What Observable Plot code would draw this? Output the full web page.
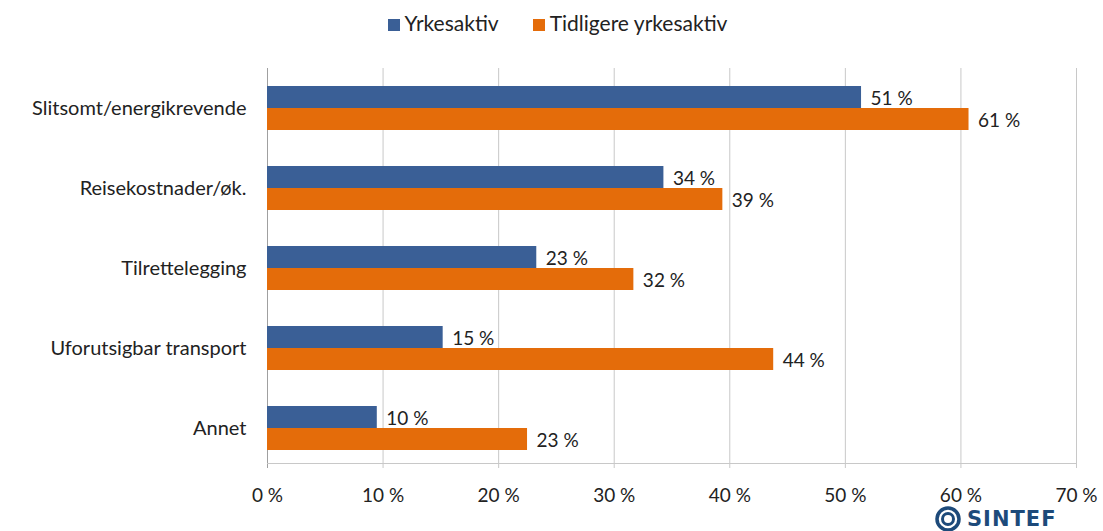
<!DOCTYPE html>
<html><head><meta charset="utf-8">
<script src="https://cdn.jsdelivr.net/npm/d3@7"></script>
<script src="https://cdn.jsdelivr.net/npm/@observablehq/plot@0.6"></script>
<style>
body{margin:0;background:#fff;font-family:Lato,"Open Sans",sans-serif;color:#222;}
#wrap{position:relative;width:1103px;height:531px;overflow:hidden;}
#legend{height:45px;display:flex;justify-content:center;align-items:center;gap:34px;font-size:21px;padding-left:12px;box-sizing:border-box;}
#legend span.sw{display:inline-block;width:12px;height:12px;margin-right:5px;vertical-align:0px;}
#logo{position:absolute;left:935px;top:506px;display:flex;align-items:center;gap:6px;color:#1d4a7a;font-family:"DejaVu Sans",sans-serif;font-weight:bold;font-size:21px;letter-spacing:1px;}
</style></head>
<body><div id="wrap"><div id="legend"></div><div id="chart"></div>
<div id="logo"><svg width="26" height="26" viewBox="0 0 26 26"><circle cx="13" cy="13" r="11" fill="none" stroke="#1d4a7a" stroke-width="3.5"/><circle cx="13" cy="13" r="5.5" fill="none" stroke="#1d4a7a" stroke-width="3"/></svg><span>SINTEF</span></div>
</div>
<script>
const categories = ["Slitsomt/energikrevende","Reisekostnader/øk.","Tilrettelegging","Uforutsigbar transport","Annet"];
const series = ["Yrkesaktiv","Tidligere yrkesaktiv"];
const yrkesaktiv = [51.4, 34.3, 23.3, 15.2, 9.5];
const tidligere = [60.7, 39.4, 31.7, 43.8, 22.5];
const yrkesaktivLabels = ["51 %","34 %","23 %","15 %","10 %"];
const tidligereLabels = ["61 %","39 %","32 %","44 %","23 %"];
const xTicks = [0,10,20,30,40,50,60,70];
const colors = ["#3a5f96","#e46c0a"];

const data = [];
categories.forEach((c,i)=>{
  data.push({cat:c, series:series[0], value:yrkesaktiv[i], label:yrkesaktivLabels[i]});
  data.push({cat:c, series:series[1], value:tidligere[i], label:tidligereLabels[i]});
});

const legend = document.getElementById("legend");
series.forEach((s,i)=>{
  const d = document.createElement("div");
  d.innerHTML = `<span class="sw" style="background:${colors[i]}"></span>${s}`;
  legend.appendChild(d);
});

const chart = Plot.plot({
  width:1103, height:486,
  marginLeft:267, marginRight:27, marginTop:23, marginBottom:63,
  style:{fontFamily:"Lato, 'Open Sans', sans-serif", fontSize:"19px", color:"#222"},
  x:{domain:[0,70], ticks:xTicks, tickFormat:d=>d+" %", label:null, tickSize:0, tickPadding:20},
  y:{domain:series, axis:null, paddingInner:0, paddingOuter:0.8},
  fy:{domain:categories, label:null, padding:0, axis:null},
  color:{domain:series, range:colors},
  marks:[
    Plot.gridX(xTicks, {stroke:"#c8c8c8", strokeOpacity:1}),
    Plot.ruleX([0], {stroke:"#a0a0a0"}),
    Plot.barX(data, {fy:"cat", y:"series", x:"value", fill:"series"}),
    Plot.text(data, {fy:"cat", y:"series", x:"value", text:"label", textAnchor:"start", dx:9, dy:1, fill:"#222", fontSize:19}),
    Plot.axisFy({anchor:"left", tickSize:0, tickPadding:21, fontSize:20, label:null})
  ]
});
document.getElementById("chart").appendChild(chart);
const svg = d3.select(chart);
svg.append("line").attr("x1",267).attr("x2",1076).attr("y1",418.5).attr("y2",418.5).attr("stroke","#c8c8c8");
</script></body></html>
